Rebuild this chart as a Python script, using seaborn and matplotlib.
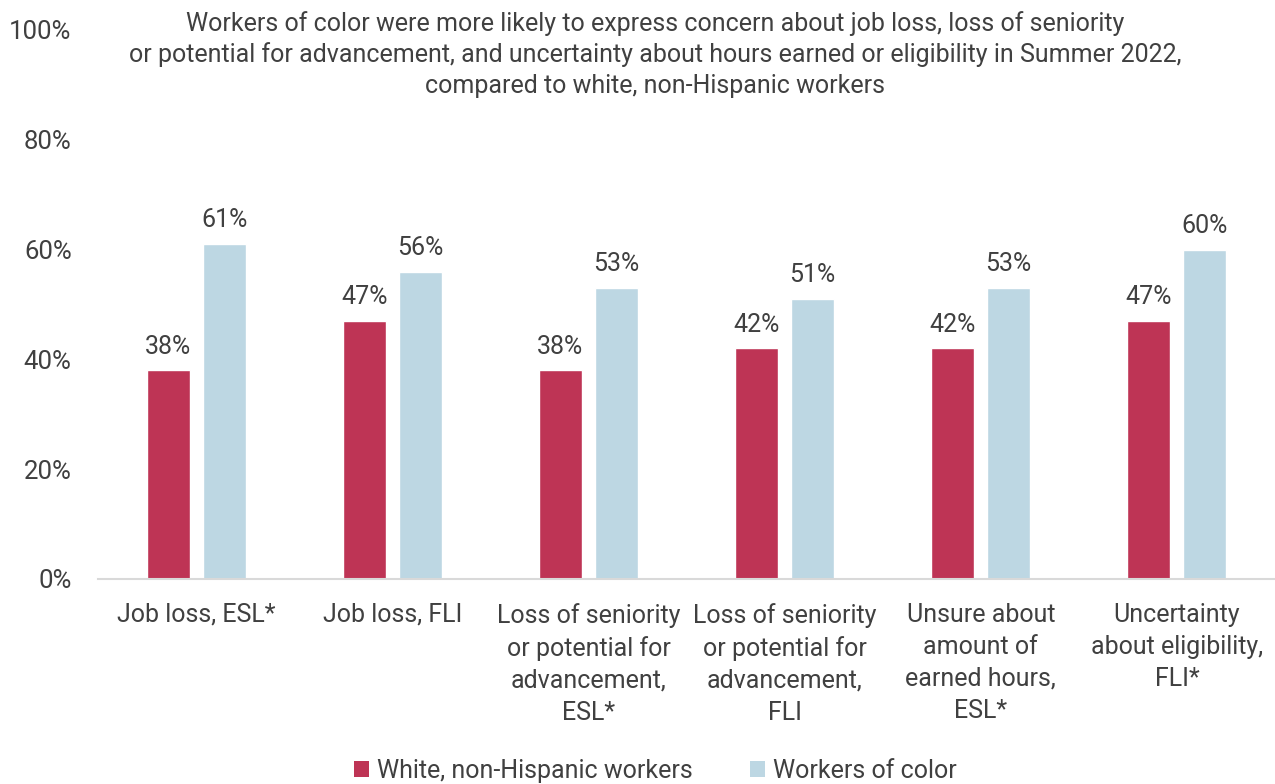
import matplotlib
matplotlib.use("Agg")
import matplotlib.pyplot as plt
import seaborn as sns
import pandas as pd
from matplotlib.patches import Patch

categories = [
    "Job loss, ESL*",
    "Job loss, FLI",
    "Loss of seniority\nor potential for\nadvancement,\nESL*",
    "Loss of seniority\nor potential for\nadvancement,\nFLI",
    "Unsure about\namount of\nearned hours,\nESL*",
    "Uncertainty\nabout eligibility,\nFLI*",
]
series_names = ["White, non-Hispanic workers", "Workers of color"]
white_values = [38, 47, 38, 42, 42, 47]
color_values = [61, 56, 53, 51, 53, 60]
y_ticks = [0, 20, 40, 60, 80, 100]
title = ("Workers of color were more likely to express concern about job loss, loss of seniority\n"
         "or potential for advancement, and uncertainty about hours earned or eligibility in Summer 2022,\n"
         "compared to white, non-Hispanic workers")

colors = ["#BE3455", "#BDD7E3"]
text_color = "#404040"

df = pd.DataFrame({
    "category": categories * 2,
    "group": [series_names[0]] * len(categories) + [series_names[1]] * len(categories),
    "value": white_values + color_values,
})

sns.set_theme(style="white")
plt.rcParams["font.family"] = ["Roboto", "DejaVu Sans"]

fig = plt.figure(figsize=(12.75, 7.84), dpi=100)
ax = fig.add_axes([0.0769, 0.2615, 0.9231, 0.7003])

sns.barplot(data=df, x="category", y="value", hue="group", order=categories,
            hue_order=series_names, palette=colors, width=0.57, gap=0.23,
            saturation=1, ax=ax, legend=False)

for cont in ax.containers:
    ax.bar_label(cont, labels=[f"{v:.0f}%" for v in cont.datavalues],
                 padding=8.5, fontsize=18, color=text_color)

ax.set_ylim(0, 100)
ax.set_xlim(-0.5, len(categories) - 0.5)
ax.set_yticks(y_ticks)
ax.set_yticklabels([f"{t}%" for t in y_ticks], fontsize=18.5, color=text_color)
ax.tick_params(axis="y", length=0, pad=19)
ax.tick_params(axis="x", length=0, pad=17)
ax.set_xticks(range(len(categories)))
ax.set_xticklabels(categories, fontsize=18, color=text_color, linespacing=1.42)
ax.set_xlabel("")
ax.set_ylabel("")
for s in ["top", "right", "left"]:
    ax.spines[s].set_visible(False)
ax.spines["bottom"].set_color("#D9D9D9")
ax.spines["bottom"].set_linewidth(1.5)
ax.grid(False)

fig.text(0.514, 0.986, title, ha="center", va="top", fontsize=18,
         color=text_color, linespacing=1.33)

handles = [Patch(facecolor=c, edgecolor="none") for c in colors]
fig.legend(handles, series_names, loc="center", bbox_to_anchor=(0.514, 0.0166),
           ncol=2, frameon=False, fontsize=18, handlelength=0.6, handleheight=0.6,
           handletextpad=0.3, columnspacing=2.3, labelcolor=text_color,
           borderpad=0, borderaxespad=0)

fig.savefig("out.png", dpi=100)
